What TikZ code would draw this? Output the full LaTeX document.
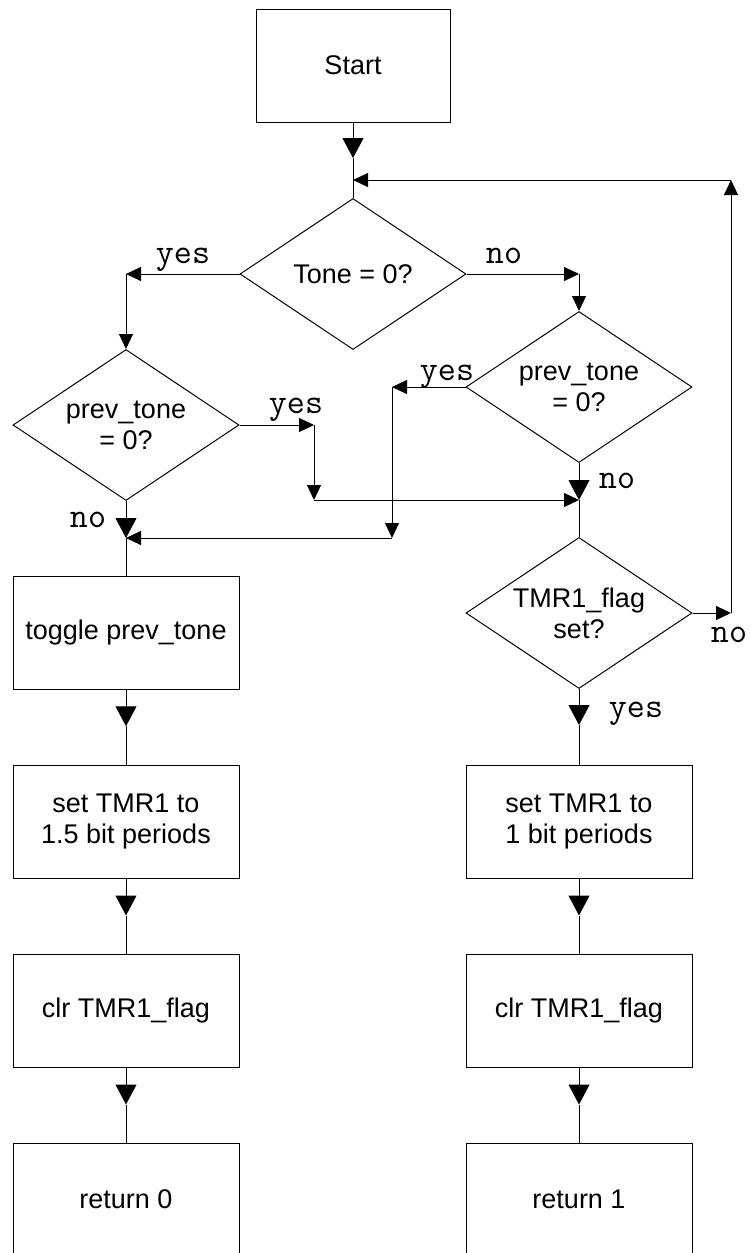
\documentclass[tikz,border=0pt]{standalone}
\usepackage{fontspec}
\setmainfont{Liberation Sans}
\usetikzlibrary{shapes.geometric,arrows.meta}
\begin{document}
\begin{tikzpicture}[x=1pt,y=-1pt,
  every node/.style={inner sep=0pt},
  procbox/.style={draw, line width=1pt, rectangle, minimum width=226pt,
    minimum height=113pt, align=center, font=\fontsize{27}{31}\selectfont},
  decision/.style={draw, line width=1pt, diamond, aspect=1.5,
    minimum width=226pt, minimum height=151pt, align=center,
    font=\fontsize{27}{31}\selectfont},
  flow/.style={line width=1pt},
  bigtip/.style={flow, -{Triangle[length=20pt,width=21pt]}},
  smalltip/.style={flow, -{Triangle[length=15pt,width=14pt]}},
  branch/.style={font=\ttfamily\fontsize{35}{35}\selectfont, anchor=base},
]
\clip (0,0) rectangle (751,1253);

% blocks
\node[procbox, minimum width=194pt] (start) at (353,65.5) {Start};
\node[decision] (tone)  at (353,274) {Tone = 0?};
\node[decision] (prevL) at (126,425) {prev\_tone\\= 0?};
\node[decision] (prevR) at (579,387) {prev\_tone\\= 0?};
\node[decision] (flag)  at (579,613) {TMR1\_flag\\set?};

\node[procbox] (toggle) at (126,632.5) {toggle prev\_tone};
\node[procbox] (setL)   at (126,821.5) {set TMR1 to\\1.5 bit periods};
\node[procbox] (clrL)   at (126,1011)  {clr TMR1\_flag};
\node[procbox] (retL)   at (126,1199.5) {return 0};

\node[procbox] (setR)   at (579,821.5) {set TMR1 to\\1 bit periods};
\node[procbox] (clrR)   at (579,1011)  {clr TMR1\_flag};
\node[procbox] (retR)   at (579,1199.5) {return 1};

% bends and junctions
\coordinate (startTip) at (353,158);
\coordinate (loopIn)   at (353,180);
\coordinate (loopR)    at (731,180);
\coordinate (flagR)    at (731,613);
\coordinate (yesL)     at (126,274);
\coordinate (noR)      at (579,274);
\coordinate (pLa)      at (314,425);
\coordinate (pLb)      at (314,500);
\coordinate (mergeR)   at (579,500);
\coordinate (pRa)      at (392,387);
\coordinate (pRb)      at (392,538);
\coordinate (mergeL)   at (126,538);
\coordinate (flagTip)  at (579,725);

% main entry
\draw[bigtip] (start.south) -- (startTip);
\draw[flow] (startTip) -- (tone.north);

% loop back when the flag is not set
\draw[smalltip] (flag.east) -- (flagR);
\draw[smalltip] (flagR) -- (loopR);
\draw[smalltip] (loopR) -- (loopIn);

% Tone = 0?
\draw[smalltip] (tone.west) -- (yesL);
\draw[smalltip] (yesL) -- (prevL.north);
\draw[smalltip] (tone.east) -- (noR);
\draw[smalltip] (noR) -- (prevR.north);

% left prev_tone test
\draw[smalltip] (prevL.east) -- (pLa);
\draw[smalltip] (pLa) -- (pLb);
\draw[smalltip] (pLb) -- (mergeR);
\draw[bigtip] (prevL.south) -- (mergeL);
\draw[flow] (mergeL) -- (toggle.north);

% right prev_tone test
\draw[smalltip] (prevR.west) -- (pRa);
\draw[smalltip] (pRa) -- (pRb);
\draw[smalltip] (pRb) -- (mergeL);
\draw[bigtip] (prevR.south) -- (mergeR);
\draw[flow] (mergeR) -- (flag.north);

% flag set
\draw[bigtip] (flag.south) -- (flagTip);
\draw[flow] (flagTip) -- (setR.north);

% straight chains of boxes
\foreach \a/\b in {toggle/setL, setL/clrL, clrL/retL, setR/clrR, clrR/retR} {
  \path (\a.south) -- coordinate[pos=0.49] (\a-tip) (\b.north);
  \draw[bigtip] (\a.south) -- (\a-tip);
  \draw[flow] (\a-tip) -- (\b.north);
}

% branch labels
\node[branch] (lyesT) at (183,263) {yes};
\node[branch] (lnoT)  at (504,263) {no};
\node[branch] (lyesL) at (296,413) {yes};
\node[branch] (lnoL)  at (88,527)  {no};
\node[branch] (lyesR) at (447,380) {yes};
\node[branch] (lnoR)  at (617,488) {no};
\node[branch] (lnoF)  at (729,642) {no};
\node[branch] (lyesF) at (636,717) {yes};
\end{tikzpicture}
\end{document}
